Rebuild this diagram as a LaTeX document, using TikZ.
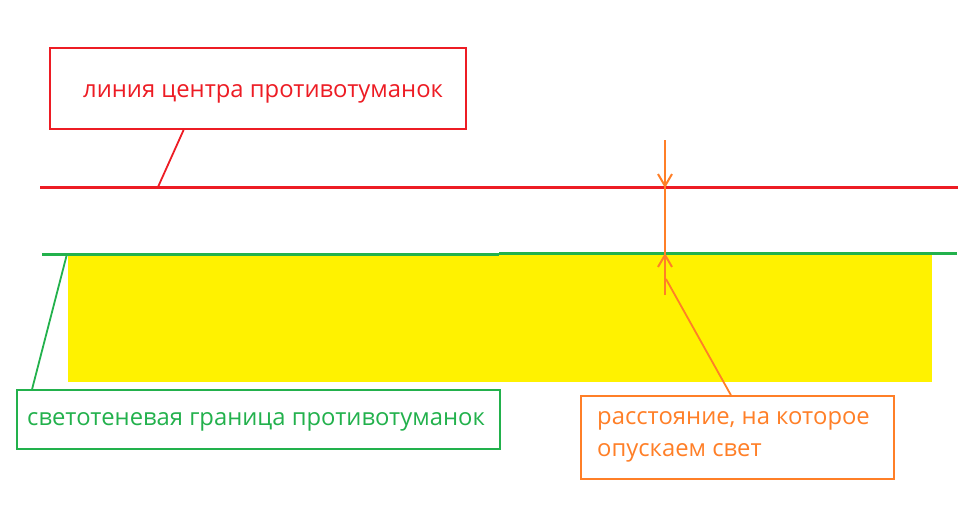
\documentclass[tikz,border=0pt]{standalone}
\usepackage{fontspec}
\setmainfont{Open Sans}
\usetikzlibrary{arrows.meta,calc}
\definecolor{pred}{HTML}{ED1C24}
\definecolor{pgreen}{HTML}{22B14C}
\definecolor{porange}{HTML}{FF7F27}
\definecolor{pyellow}{HTML}{FFF200}
\tikzset{
  labelbox/.style={draw=#1, rectangle, line width=1.8pt, inner sep=0pt, fill=white},
  labeltext/.style={anchor=base west, inner sep=0pt, text=#1, font=\fontsize{23.8}{28}\selectfont},
  leader/.style={line width=1.8pt, draw=#1},
  mainline/.style={line width=3pt, draw=#1},
  vtip/.style={line width=2pt, draw=porange, -{Straight Barb[length=12pt,width=14pt,line width=2pt]}}
}
\begin{document}
\begin{tikzpicture}[x=1pt,y=-1pt]
\useasboundingbox (0,0) rectangle (960,527);
% yellow area
\fill[pyellow] (68,255) rectangle (932,382);
% red centre line
\coordinate (redL) at (40,187);
\coordinate (redR) at (958,187);
\coordinate (redP) at (158,187);
\draw[mainline=pred] (redL) -- (redR);
% green cut-off line (two segments with slight step)
\coordinate (grL) at (42,254);
\coordinate (grM1) at (499,254);
\coordinate (grM2) at (499,253);
\coordinate (grR) at (957,253);
\coordinate (grP) at (67,254);
\draw[mainline=pgreen] (grL) -- (grM1);
\draw[mainline=pgreen] (grM2) -- (grR);
% boxes
\node[labelbox=pred, minimum width=416pt, minimum height=81pt] (rb) at (258,88.5) {};
\node[labeltext=pred] (rt) at (83,97) {линия центра противотуманок};
\node[labelbox=pgreen, minimum width=483pt, minimum height=59pt] (gb) at (258.5,419.5) {};
\node[labeltext=pgreen] (gt) at (27,425) {светотеневая граница противотуманок};
\node[labelbox=porange, minimum width=313pt, minimum height=83pt] (ob) at (737.5,437.5) {};
\node[labeltext=porange] (ot1) at (597,424) {расстояние, на которое};
\node[labeltext=porange] (ot2) at (597,456) {опускаем свет};
% leaders
\draw[leader=pred] ($(rb.south west)!0.322!(rb.south east)$) -- (redP);
\draw[leader=pgreen] (grP) -- ($(gb.north west)!0.033!(gb.north east)$);
\coordinate (oP) at (666,279);
\draw[leader=porange] ($(ob.north west)!0.479!(ob.north east)$) -- (oP);
% dimension arrows
\coordinate (dTop) at (665,140);
\coordinate (dBot) at (665,295);
\coordinate (dRed) at (665,188);
\coordinate (dGreen) at (665,253);
\draw[vtip] (dTop) -- (dRed);
\draw[vtip] (dBot) -- (dGreen);
\draw[line width=2pt, porange] (dTop) -- (dBot);
\end{tikzpicture}
\end{document}
